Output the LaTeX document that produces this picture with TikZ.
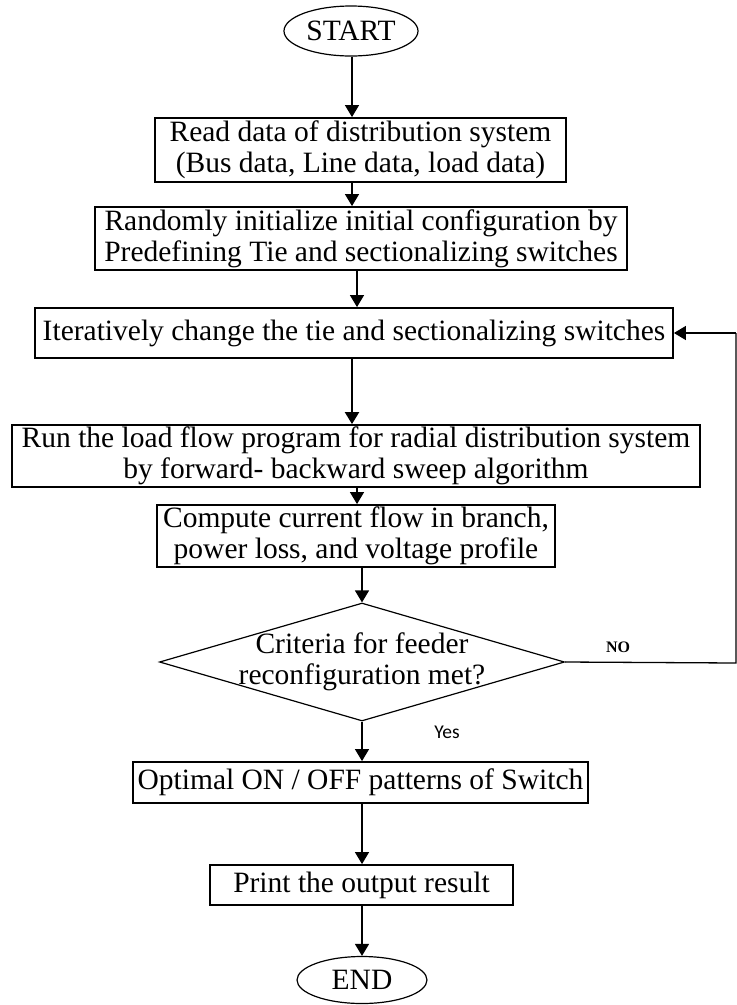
\documentclass[tikz,border=0pt]{standalone}
\usepackage{fontspec}
\setmainfont{Liberation Serif}
\newfontfamily\lblfont{Carlito}
\usetikzlibrary{shapes.geometric,arrows.meta}
\begin{document}
\begin{tikzpicture}[x=1pt,y=-1pt,
  every node/.style={font=\fontsize{29.5}{31}\selectfont, inner sep=0pt, align=center},
  procbox/.style={draw, line width=1.8pt, rectangle},
  term/.style={draw, line width=1.2pt, ellipse},
  arr/.style={line width=1.3pt, -{Triangle[width=14pt,length=12pt]}},
  lnk/.style={line width=1.3pt},
  nolbl/.style={font=\bfseries\fontsize{16}{18}\selectfont},
  yeslbl/.style={font=\lblfont\fontsize{19.5}{21}\selectfont}]
\useasboundingbox (0,0) rectangle (737,1005);
\node[term, minimum width=134pt, minimum height=50pt] (start) at (351,31) {START};
\node[procbox, minimum width=411pt, minimum height=64pt] (b1) at (360.5,150) {Read data of distribution system\\(Bus data, Line data, load data)};
\node[procbox, minimum width=532pt, minimum height=63pt] (b2) at (361,238.5) {Randomly initialize initial configuration by\\Predefining Tie and sectionalizing switches};
\node[procbox, minimum width=638pt, minimum height=50pt] (b3) at (354,333) {Iteratively change the tie and sectionalizing switches};
\node[procbox, minimum width=688pt, minimum height=62pt] (b4) at (356,456) {Run the load flow program for radial distribution system\\by forward- backward sweep algorithm};
\node[procbox, minimum width=398pt, minimum height=62pt] (b5) at (356,536) {Compute current flow in branch,\\power loss, and voltage profile};
\node[draw, line width=1.2pt, diamond, minimum width=405pt, minimum height=118pt, shape aspect=3.43] (dec) at (362,662) {};
\node (dectext) at (362,662) {Criteria for feeder\\reconfiguration met?};
\node[procbox, minimum width=455pt, minimum height=41pt] (b6) at (360.5,782.5) {Optimal ON / OFF patterns of Switch};
\node[procbox, minimum width=303pt, minimum height=40pt] (b7) at (361.5,885) {Print the output result};
\node[term, minimum width=130pt, minimum height=47pt] (end) at (362,980) {END};
\node[nolbl] (no) at (618,647) {NO};
\node[yeslbl] (yes) at (447,732) {Yes};
\coordinate (c1) at (352,0);
\coordinate (c2) at (357,0);
\coordinate (c3) at (362,0);
\coordinate (fbA) at (736,663);
\coordinate (fbB) at (736,333);
\draw[arr] (c1 |- start.south) -- (c1 |- b1.north);
\draw[arr] (c1 |- b1.south) -- (c1 |- b2.north);
\draw[arr] (c2 |- b2.south) -- (c2 |- b3.north);
\draw[arr, line width=2pt] (c1 |- b3.south) -- (c1 |- b4.north);
\draw[arr] (c2 |- b4.south) -- (c2 |- b5.north);
\draw[arr] (c3 |- b5.south) -- (dec.north);
\draw[arr] (dec.south) -- (c3 |- b6.north);
\draw[arr] (c3 |- b6.south) -- (c3 |- b7.north);
\draw[arr] (c3 |- b7.south) -- (end.north);
\draw[lnk] (dec.east) -- (fbA) -- (fbB);
\draw[arr] (fbB) -- (b3.east);
\end{tikzpicture}
\end{document}
